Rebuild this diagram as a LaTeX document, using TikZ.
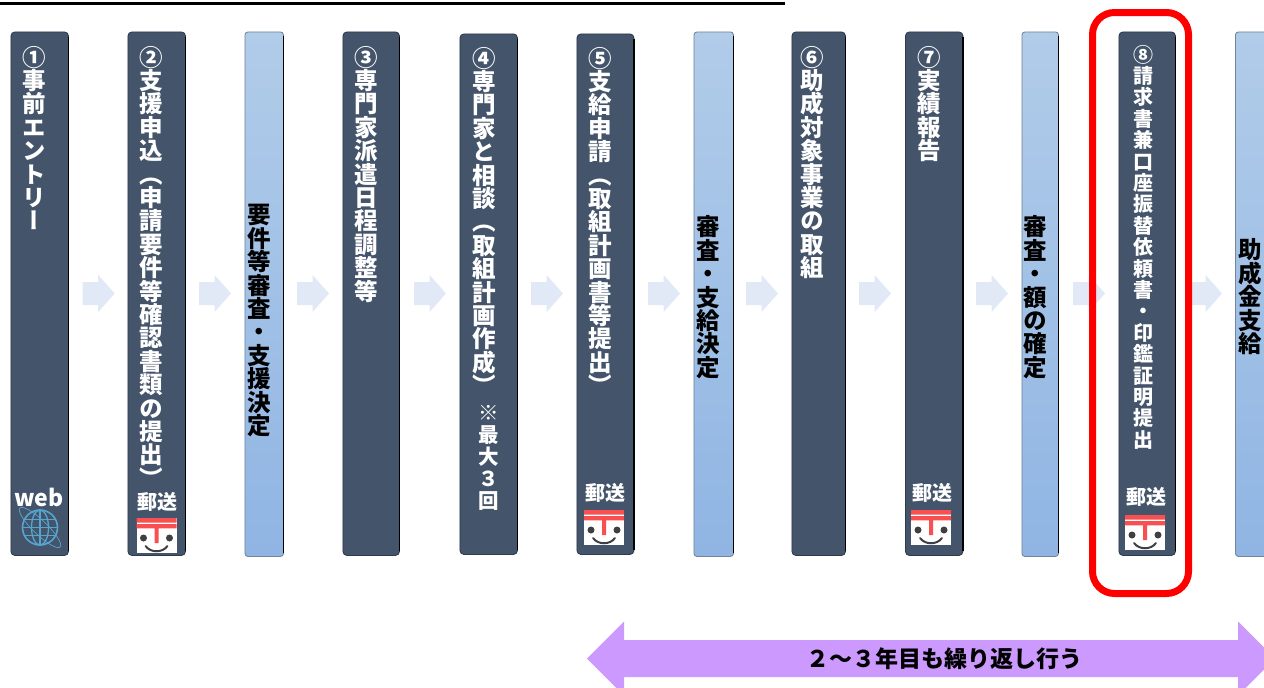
\documentclass[tikz,border=0pt]{standalone}
\usepackage{fontspec}
\setmainfont{Noto Sans CJK JP}
\newfontfamily\vjp{Noto Sans CJK JP}[RawFeature=+vert]
\definecolor{dkfill}{HTML}{44546A}
\definecolor{dkedge}{HTML}{2F3B4D}
\definecolor{shade}{HTML}{9AA1AB}
\definecolor{lttop}{HTML}{B1CCE9}
\definecolor{ltbot}{HTML}{90B5E3}
\definecolor{ltedge}{HTML}{75859A}
\definecolor{flow}{HTML}{E0E9F5}
\definecolor{purp}{HTML}{CC99FF}
\definecolor{postred}{HTML}{F85050}
\definecolor{facegray}{HTML}{404040}
\definecolor{globeblue}{HTML}{55A6CF}
\newlength{\pp}
\makeatletter
\newcommand{\stk}[2]{\setlength{\pp}{#1}\vbox{\offinterlineskip\@tfor\cc:=#2\do{\vbox to\pp{\vfil\hbox to 1.3em{\hss\rule[-.12em]{0pt}{1em}\cc\hss}\vfil}}}}
\makeatother
\tikzset{
  x=1pt,y=-1pt,
  dkbox/.style={anchor=north west,draw=dkedge,line width=.9pt,fill=dkfill,rounded corners=4pt,inner sep=0pt},
  ltbox/.style={anchor=north west,draw=ltedge,line width=.9pt,top color=lttop,bottom color=ltbot,rounded corners=3pt,inner sep=0pt},
  wtext/.style={anchor=north,inner sep=0pt,text=white,font=\vjp\bfseries\fontsize{23.5}{24}\selectfont},
  ktext/.style={anchor=north,inner sep=0pt,text=black,font=\vjp\bfseries\fontsize{23.5}{24}\selectfont},
  wsmall/.style={anchor=north,inner sep=0pt,text=white,font=\vjp\bfseries\fontsize{20}{21}\selectfont},
  wnote/.style={anchor=north,inner sep=0pt,text=white,font=\vjp\bfseries\fontsize{20.5}{21}\selectfont},
  tag/.style={inner sep=0pt,text=white,font=\bfseries\fontsize{20}{21}\selectfont},
  flowarrow/.pic={\fill[flow] (0,-11.5) -- (15.5,-11.5) -- (15.5,-18.5) -- (32,0) -- (15.5,18.5) -- (15.5,11.5) -- (0,11.5) -- cycle;},
  mailicon/.pic={
    \fill[white] (0,0) rectangle (40,35);
    \fill[postred] (0,0) rectangle (40,4.5) (0,6) rectangle (40,10.3) (18,10) rectangle (22,25);
    \fill[facegray] (7,20) circle (3.5) (33,20) circle (3.5);
    \draw[facegray,line width=2pt,line cap=round] (9,28) .. controls (14,35) and (26,35) .. (31,28);
  }
}
\begin{document}
\begin{tikzpicture}
\path[use as bounding box,clip] (0,0) rectangle (1264,688);
\fill[white] (0,0) rectangle (1264,688);
% title underline
\coordinate (ulA) at (0,3);
\coordinate (ulB) at (785,3);
\draw[black,line width=3pt] (ulA) -- (ulB);
% boxes
\node[dkbox,minimum width=57.5pt,minimum height=523.5pt] (b1) at (10.5,31.5) {};
\node[dkbox,minimum width=57.5pt,minimum height=523.5pt] (b2) at (127.5,31.5) {};
\node[ltbox,minimum width=38.5pt,minimum height=524.5pt] (c1) at (244.5,31.5) {};
\node[dkbox,minimum width=56.5pt,minimum height=523.5pt] (b3) at (342.5,31.5) {};
\node[dkbox,minimum width=57.5pt,minimum height=520.5pt] (b4) at (459.5,33.5) {};
\node[dkbox,minimum width=57pt,minimum height=520.5pt] (b5) at (576.5,33.5) {};
\node[ltbox,minimum width=39.5pt,minimum height=524.5pt] (c2) at (693.5,31.5) {};
\node[dkbox,minimum width=53.5pt,minimum height=523.5pt] (b6) at (791.5,31.5) {};
\node[dkbox,minimum width=57.5pt,minimum height=523.5pt] (b7) at (905,31.5) {};
\node[ltbox,minimum width=36.5pt,minimum height=524.5pt] (c3) at (1021.5,31.5) {};
\node[dkbox,minimum width=56.5pt,minimum height=523.5pt] (b8) at (1118.5,31.5) {};
\node[ltbox,minimum width=60pt,minimum height=524.5pt] (c4) at (1235,31.5) {};
\foreach \n in {b1,b2,b3,b4,b5,b6,b7,b8}
  \draw[shade,line width=1.6pt] ([xshift=-.6pt,yshift=-5pt]\n.north east) -- ([xshift=-.6pt,yshift=5pt]\n.south east);
\foreach \n in {c1,c2,c3,c4}
  \draw[shade,line width=1pt] ([xshift=-.3pt,yshift=-4pt]\n.north east) -- ([xshift=-.3pt,yshift=4pt]\n.south east);
% flow arrows
\foreach \i/\ax in {1/82.7,2/199,3/297,4/414,5/531,6/648,7/746,8/859,9/976,10/1073,11/1190}
  \pic (fa\i) at (\ax,293.5) {flowarrow};
% texts
\node[wtext] (t1) at (34.5,45.3) {\stk{23.4pt}{①事前エントリー}};
\node[wtext] (t2) at (151,45.3) {\stk{23.4pt}{②支援申込（申請要件等確認書類の提出）}};
\node[ktext] (t2b) at (259,203) {\stk{23.4pt}{要件等審査・支援決定}};
\node[wtext] (t3) at (366,45.3) {\stk{23.4pt}{③専門家派遣日程調整等}};
\node[wtext] (t4) at (484,46.3) {\stk{23.4pt}{④専門家と相談（取組計画作成）}};
\node[wnote] (t4b) at (489,402) {\stk{22pt}{※最大３回}};
\node[wtext] (t5) at (600,46.3) {\stk{23.4pt}{⑤支給申請（取組計画書等提出）}};
\node[ktext] (t5b) at (708,215) {\stk{23.4pt}{審査・支給決定}};
\node[wtext] (t6) at (812,45.3) {\stk{23.4pt}{⑥助成対象事業の取組}};
\node[wtext] (t7) at (929,45.3) {\stk{23.4pt}{⑦実績報告}};
\node[ktext] (t7b) at (1035,215) {\stk{23.4pt}{審査・額の確定}};
\node[wsmall] (t8) at (1143,43.5) {\stk{21.4pt}{⑧請求書兼口座振替依頼書・印鑑証明提出}};
\node[ktext] (t8b) at (1250,238) {\stk{23.4pt}{助成金支給}};
% web tag and globe
\node[tag,font=\fontsize{23}{24}\selectfont\bfseries] (web) at (39,497) {web};
\begin{scope}[globeblue,line width=1.3pt]
  \coordinate (gl) at (40,527.5);
  \draw[line width=1.6pt] (gl) circle (17.5);
  \draw (gl) ellipse (8.5 and 17.5);
  \draw ([yshift=-8pt]gl) -- ++(-15,0) ([yshift=-8pt]gl) -- ++(15,0);
  \draw ([yshift=8pt]gl) -- ++(-15,0) ([yshift=8pt]gl) -- ++(15,0);
  \draw ([xshift=-17.5pt]gl) -- ([xshift=17.5pt]gl);
  \draw ([yshift=-17.5pt]gl) -- ([yshift=17.5pt]gl);
  \draw[line width=.7pt,rotate around={-44:(gl)}] (gl) ellipse (28 and 7);
\end{scope}
% post tags
\node[tag] (p2) at (157,502) {郵送};
\pic (m2) at (136.5,518) {mailicon};
\node[tag] (p5) at (605,493) {郵送};
\pic (m5) at (584,510) {mailicon};
\node[tag] (p7) at (932,493) {郵送};
\pic (m7) at (911,510) {mailicon};
\node[tag] (p8) at (1146,497) {郵送};
\pic (m8) at (1125,515) {mailicon};
% red highlight
\draw[red,line width=7pt,rounded corners=22pt] (1092.5,12.5) rectangle (1188.5,593.5);
% purple double arrow
\fill[purp] (587,658.5) -- (624,621.5) -- (624,640) -- (1238,640) -- (1238,621.5) -- (1275,658.5) -- (1238,695.5) -- (1238,677) -- (624,677) -- (624,695.5) -- cycle;
\node[inner sep=0pt,text=black,font=\bfseries\fontsize{23}{24}\selectfont] (rep) at (944,659) {２～３年目も繰り返し行う};
\end{tikzpicture}
\end{document}
